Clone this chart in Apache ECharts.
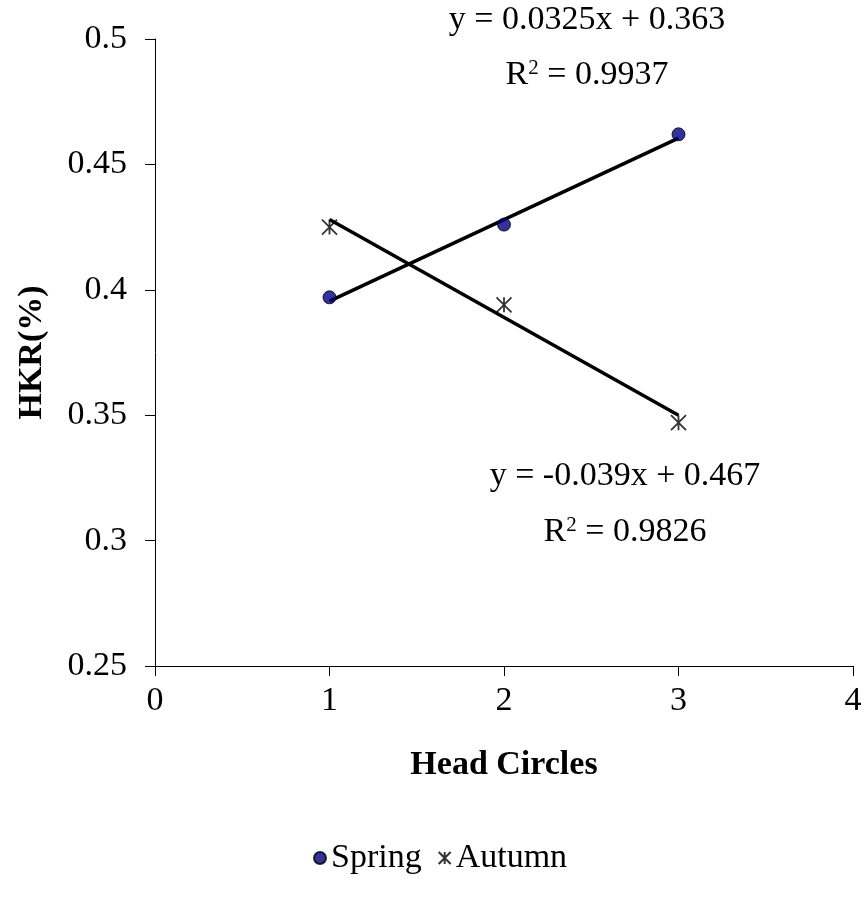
<!DOCTYPE html>
<html>
<head>
<meta charset="utf-8">
<script src="https://cdn.jsdelivr.net/npm/echarts@6/dist/echarts.min.js"></script>
<style>
  html, body { margin: 0; padding: 0; background: #fff; }
  #chart { width: 867px; height: 898px; }
</style>
</head>
<body>
<div id="chart"></div>
<script>
// 数据
var xTicks = [0, 1, 2, 3, 4];
var springData = [[1, 0.397], [2, 0.426], [3, 0.462]];
var autumnData = [[1, 0.425], [2, 0.394], [3, 0.347]];
// 趋势线端点（图上读取）
var springTrend = [[1, 0.3955], [3, 0.4605]];
var autumnTrend = [[1, 0.428], [3, 0.350]];
var springEq = ['y = 0.0325x + 0.363', '0.9937'];
var autumnEq = ['y = -0.039x + 0.467', '0.9826'];

var font = '"Liberation Serif", "Times New Roman", serif';
var fs = 34;
var star = 'path://M0,0 L10,10 M10,0 L0,10 M5,0 L5,10';

// 方程文字（居中）
function eqText(eq, cx, y1, y2) {
  return [
    { type: 'text', x: cx, y: y1,
      style: { text: eq[0], fontFamily: font, fontSize: fs, fill: '#000',
        align: 'center', verticalAlign: 'middle', textAlign: 'center', textVerticalAlign: 'middle' } },
    { type: 'text', x: cx, y: y2,
      style: { text: '{n|R}{s|2}{n| = ' + eq[1] + '}', fill: '#000',
        align: 'center', verticalAlign: 'middle', textAlign: 'center', textVerticalAlign: 'middle',
        rich: {
          n: { fontFamily: font, fontSize: fs, verticalAlign: 'bottom' },
          s: { fontFamily: font, fontSize: 21, verticalAlign: 'top' }
        } } }
  ];
}

var chart = echarts.init(document.getElementById('chart'));
chart.setOption({
  backgroundColor: '#fff',
  animation: false,
  grid: { left: 155, right: 14, top: 39, bottom: 232, containLabel: false, outerBoundsMode: 'none' },
  legend: {
    top: 836,
    left: 308,
    itemWidth: 12,
    itemHeight: 12,
    itemGap: 16,
    textStyle: { fontFamily: font, fontSize: fs, color: '#000' },
    data: [
      { name: 'Spring', icon: 'circle' },
      { name: 'Autumn', icon: star }
    ]
  },
  xAxis: {
    type: 'value',
    min: 0, max: 4, interval: 1,
    name: 'Head Circles',
    nameLocation: 'middle',
    nameGap: 82,
    nameTextStyle: { fontFamily: font, fontSize: 34, fontWeight: 'bold', color: '#000' },
    axisLine: { lineStyle: { color: '#000', width: 1 } },
    axisTick: { show: true, length: 10, lineStyle: { color: '#000' } },
    axisLabel: { fontFamily: font, fontSize: fs, color: '#000', margin: 18,
      formatter: function (v) { return xTicks.indexOf(v) >= 0 ? String(v) : ''; } },
    splitLine: { show: false }
  },
  yAxis: {
    type: 'value',
    min: 0.25, max: 0.5, interval: 0.05,
    name: 'HKR(%)',
    nameLocation: 'middle',
    nameGap: 106,
    nameTextStyle: { fontFamily: font, fontSize: fs, fontWeight: 'bold', color: '#000' },
    axisLine: { show: true, lineStyle: { color: '#000', width: 1 } },
    axisTick: { show: true, length: 10, lineStyle: { color: '#000' } },
    axisLabel: { fontFamily: font, fontSize: fs, color: '#000', margin: 28,
      formatter: function (v) { return String(Math.round(v * 100) / 100); } },
    splitLine: { show: false }
  },
  series: [
    {
      name: 'Spring trend', type: 'line', data: springTrend,
      symbol: 'none', lineStyle: { color: '#000', width: 3.5 }, silent: true, z: 2
    },
    {
      name: 'Autumn trend', type: 'line', data: autumnTrend,
      symbol: 'none', lineStyle: { color: '#000', width: 3.5 }, silent: true, z: 2
    },
    {
      name: 'Spring', type: 'scatter', data: springData,
      symbol: 'circle', symbolSize: 13,
      itemStyle: { color: '#000080', borderColor: '#000', borderWidth: 1 }, z: 3
    },
    {
      name: 'Autumn', type: 'scatter', data: autumnData,
      symbol: star, symbolSize: 15,
      itemStyle: { color: 'rgba(0,0,0,0)', borderColor: '#000', borderWidth: 1.8 }, z: 3
    }
  ],
  graphic: eqText(springEq, 587, 20, 75).concat(eqText(autumnEq, 625, 476, 532))
});
</script>
</body>
</html>
